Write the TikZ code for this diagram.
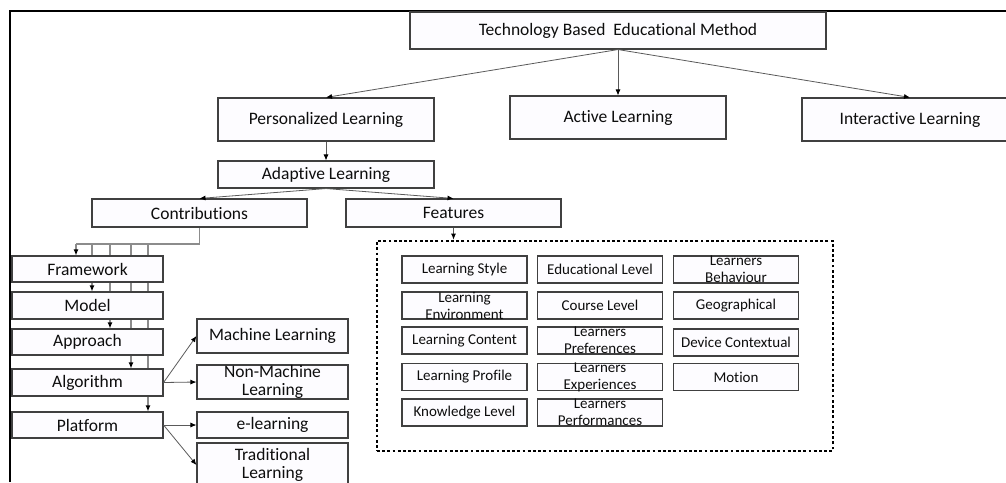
\documentclass[tikz,border=0pt]{standalone}
\usepackage{fontspec}
\setmainfont{Carlito}[Ligatures=NoCommon]
\usetikzlibrary{arrows.meta,backgrounds}
\definecolor{boxline}{HTML}{404040}
\definecolor{boxfill}{HTML}{FDFCFF}
\definecolor{wire}{HTML}{5A5A5A}
\definecolor{bus}{HTML}{8C8C8C}
\begin{document}
\begin{tikzpicture}[x=1pt,y=-1pt,
  box/.style={draw=boxline,line width=1.1pt,fill=boxfill,inner sep=0pt,
    minimum height=#1,minimum width=216,text=black!95,align=center,
    font=\fontsize{17.5}{18}\selectfont},
  box/.default=27,
  sidebox/.style={box=#1,minimum width=151},
  sidebox/.default=26,
  featbox/.style={box=27,minimum width=125,font=\fontsize{15}{17}\selectfont},
  ftext/.style={align=center,inner sep=0pt,text=black!95,font=\fontsize{15}{17}\selectfont},
  arr/.style={draw=wire,line width=0.8pt,-{Latex[length=6pt,width=5pt,color=black]}},
  busline/.style={draw=bus,line width=1.1pt}]
\useasboundingbox (0,0) rectangle (1006,482);
\draw[line width=2pt] (10,482) -- (10,11) -- (1010,11);

\node[box=37,minimum width=416] (tech) at (618,30.5) {Technology Based\ \ Educational Method};
\node[box=43] (pers) at (326,119.5) {Personalized Learning};
\node[box=43] (active) at (618,117.5) {Active Learning};
\node[box=43] (inter) at (910,119.5) {Interactive Learning};
\node[box] (adapt) at (326,174.5) {Adaptive Learning};
\node[box=28,minimum width=215] (contr) at (199.5,213) {Contributions};
\node[box=28,minimum width=215] (feat) at (453.5,213) {Features};

\draw[arr] (tech.south) -- (pers.north);
\draw[arr] (tech.south) -- (active.north);
\draw[arr] (tech.south) -- (inter.north);
\draw[arr] (pers.south) -- (adapt.north);
\draw[arr] (adapt.south) -- (contr.north);
\draw[arr] (adapt.south) -- (feat.north);

% contributions
\node[sidebox] (fw) at (87.5,269) {Framework};
\node[sidebox=27] (model) at (87.5,305.5) {Model};
\node[sidebox] (appr) at (87.5,342) {Approach};
\node[sidebox=27] (algo) at (87.5,382.5) {Algorithm};
\node[sidebox] (plat) at (87.5,425) {Platform};
\node[sidebox=34] (ml) at (272.5,336) {Machine Learning};
\node[sidebox=34] (nml) at (272.5,382) {Non-Machine\\Learning};
\node[sidebox] (el) at (272.5,425) {e-learning};
\node[sidebox=44] (trad) at (272.5,465) {Traditional\\Learning};

\begin{scope}[on background layer]
\coordinate (bfw) at (76,244);
\coordinate (bmodel) at (92,244);
\coordinate (bappr) at (110,244);
\coordinate (balgo) at (131,244);
\coordinate (bplat) at (148,244);
\draw[busline] (contr.south) |- (bfw);
\foreach \n in {fw,model,appr,algo,plat}
  \draw[arr,busline] (b\n) -- (b\n |- \n.north);
\end{scope}

\draw[arr] (algo.east) -- (ml.west);
\draw[arr] (algo.east) -- (nml.west);
\draw[arr] (plat.east) -- (el.west);
\draw[arr] (plat.east) -- (trad.west);

% features
\node[draw,line width=2.8pt,dash pattern=on 2.8pt off 2.4pt,minimum width=456,minimum height=210,inner sep=0pt] (area) at (605,346) {};
\draw[arr] (feat.south) -- (feat.south |- area.north);

\node[featbox] (style) at (464.5,269.5) {Learning Style};
\node[featbox] (edu) at (600,269.5) {Educational Level};
\node[featbox,label={[ftext]center:Learners\\Behaviour}] (behav) at (736,269.5) {};
\node[featbox,label={[ftext]center:Learning\\Environment}] (env) at (464.5,305.5) {};
\node[featbox] (course) at (600,305.5) {Course Level};
\node[featbox] (geo) at (736,305.5) {Geographical};
\node[featbox] (content) at (464.5,340.5) {Learning Content};
\node[featbox,label={[ftext]center:Learners\\Preferences}] (pref) at (600,340.5) {};
\node[featbox] (device) at (736,342.5) {Device Contextual};
\node[featbox] (profile) at (464.5,377) {Learning Profile};
\node[featbox,label={[ftext]center:Learners\\Experiences}] (exper) at (600,377) {};
\node[featbox] (motion) at (736,377) {Motion};
\node[featbox] (know) at (464.5,412.5) {Knowledge Level};
\node[featbox,label={[ftext]center:Learners\\Performances}] (perf) at (600,412.5) {};
\end{tikzpicture}
\end{document}
